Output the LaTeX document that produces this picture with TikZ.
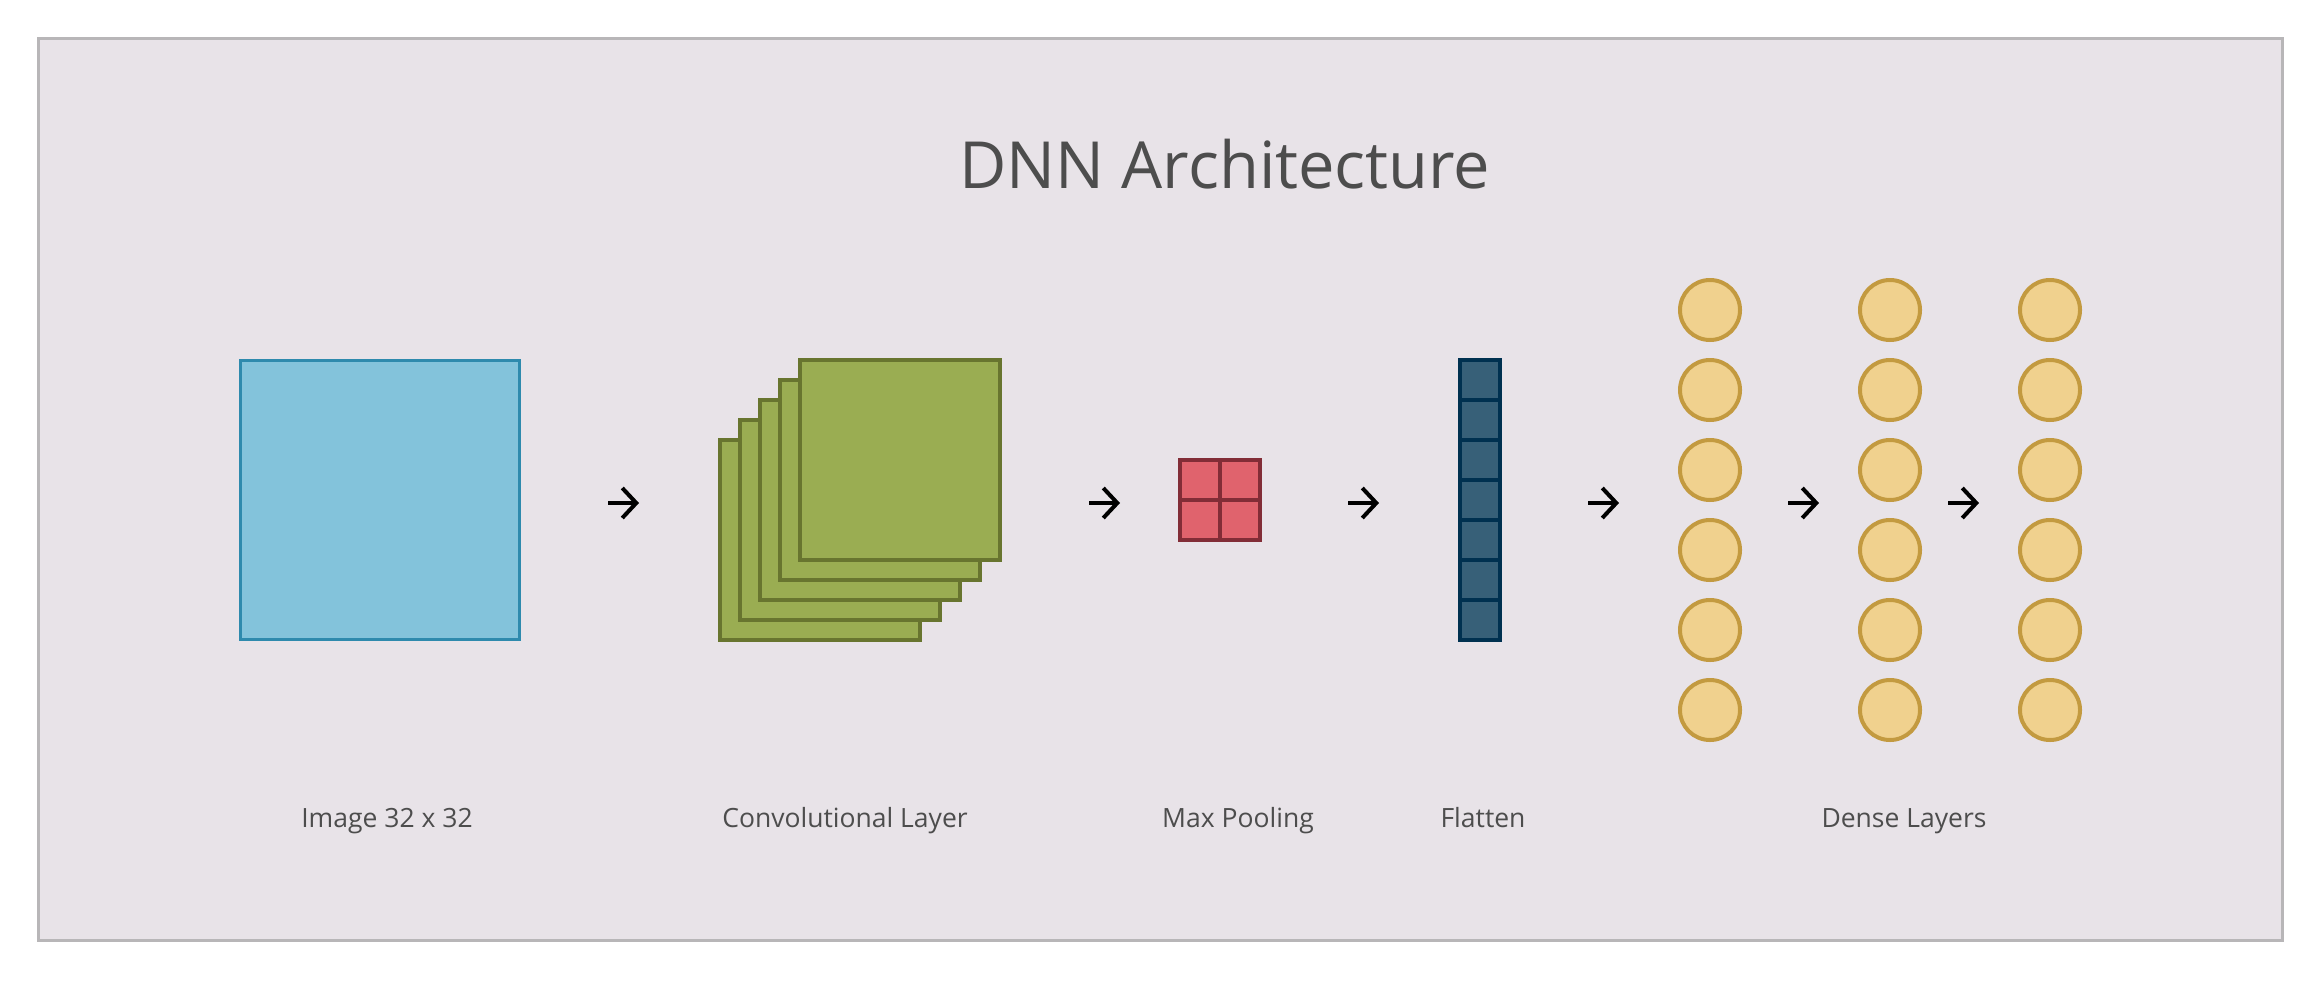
\documentclass[tikz,border=0pt]{standalone}
\usepackage{fontspec}
\setmainfont{Open Sans}
\usetikzlibrary{arrows.meta}
\definecolor{bgc}{HTML}{E8E3E8}
\definecolor{bdc}{HTML}{B8B6B8}
\definecolor{txc}{HTML}{4D4D4D}
\definecolor{bluef}{HTML}{83C3DB}
\definecolor{blued}{HTML}{2E8AAD}
\definecolor{greenf}{HTML}{9AAD52}
\definecolor{greend}{HTML}{68752F}
\definecolor{redf}{HTML}{E0636D}
\definecolor{redd}{HTML}{822D37}
\definecolor{flatf}{HTML}{376078}
\definecolor{flatd}{HTML}{003150}
\definecolor{neuf}{HTML}{F0D18E}
\definecolor{neud}{HTML}{C39A40}
\tikzset{
  lbl/.style={text=txc, font=\fontsize{26.5}{30}\selectfont, anchor=base},
  ttl/.style={text=txc, font=\fontsize{65}{72}\selectfont, anchor=base},
  arr/.style={draw=black, line width=4pt, -{Straight Barb[length=14pt,width=30pt,line width=4pt]}},
  imgbox/.style={draw=blued, fill=bluef, line width=3pt},
  convbox/.style={draw=greend, fill=greenf, line width=3.5pt},
  poolbox/.style={draw=redd, fill=redf, line width=3.5pt},
  flatbox/.style={draw=flatd, fill=flatf, line width=3.5pt},
  neuron/.style={circle, draw=neud, fill=neuf, line width=4pt, minimum size=60pt, inner sep=0pt}
}
\begin{document}
\begin{tikzpicture}[x=1pt,y=-1pt]
\useasboundingbox (0,0) rectangle (2320,980);
\draw[draw=bdc, fill=bgc, line width=3pt] (38,38) rectangle (2282,940);
\node[ttl] (title) at (1225,188) {DNN Architecture};
% input image
\draw[imgbox] (240,360) rectangle (519,639);
\coordinate (img) at (380,500);
% conv layers
\foreach \k in {4,3,2,1,0}{
  \draw[convbox] (800-20*\k,360+20*\k) rectangle (1000-20*\k,560+20*\k);
}
% pooling
\draw[poolbox] (1180,460) rectangle (1260,540);
\draw[draw=redd, line width=3.5pt] (1220,460) -- (1220,540) (1180,500) -- (1260,500);
% flatten
\draw[flatbox] (1460,360) rectangle (1500,640);
\foreach \i in {1,...,6}{
  \draw[draw=flatd, line width=3.5pt] (1460,360+40*\i) -- (1500,360+40*\i);
}
% dense neurons
\foreach \c/\x in {a/1710,b/1890,c/2050}{
  \foreach \r in {0,...,5}{
    \node[neuron] (n\c\r) at (\x,310+80*\r) {};
  }
}
% arrows
\foreach \i/\x in {1/608,2/1089,3/1348,4/1588,5/1788,6/1948}{
  \coordinate (s\i) at (\x,503);
  \coordinate (e\i) at (\x+31,503);
  \draw[arr] (s\i) -- (e\i);
}
% labels
\node[lbl] (l1) at (387,827) {Image 32 x 32};
\node[lbl] (l2) at (845,827) {Convolutional Layer};
\node[lbl] (l3) at (1238,827) {Max Pooling};
\node[lbl] (l4) at (1483,827) {Flatten};
\node[lbl] (l5) at (1904,827) {Dense Layers};
\end{tikzpicture}
\end{document}
